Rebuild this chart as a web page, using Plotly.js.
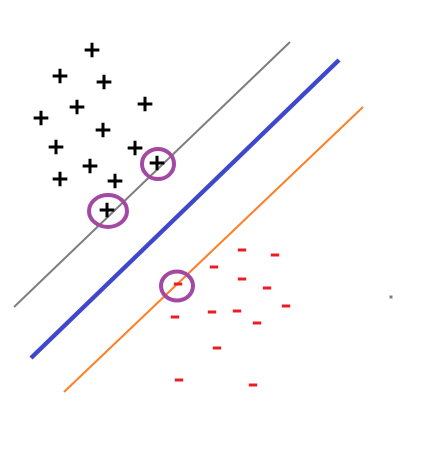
<!DOCTYPE html>
<html>
<head>
<meta charset="utf-8">
<script src="https://cdn.plot.ly/plotly-3.0.1.min.js"></script>
<style>html,body{margin:0;padding:0;background:#fff;}#chart{width:431px;height:468px;}</style>
</head>
<body>
<div id="chart"></div>
<script>
// Positive class samples (x, y in drawing units)
var plusX = [92, 60, 104, 77, 145, 41, 103, 56, 135, 90, 157, 60, 115, 107];
var plusY = [50, 76, 82, 107, 104, 118, 130, 147, 148, 166, 163, 179, 181, 210];
// Negative class samples
var minusX = [242, 275, 214, 242, 267, 178, 286, 175, 212, 237, 257, 217, 179, 253];
var minusY = [250, 255, 267, 279, 288, 284, 306, 317, 312, 311, 323, 348, 380, 385];
// Lines: upper margin, decision boundary, lower margin
var grayLineX = [14, 290];
var grayLineY = [307, 42];
var blueLineX = [31, 339];
var blueLineY = [358, 60];
var orangeLineX = [64, 363];
var orangeLineY = [392, 107];
// Support vector circles: centers and radii
var svX = [158, 108, 177];
var svY = [164, 211, 286];
var svRx = [16, 19, 16];
var svRy = [15, 16, 14.5];
// Stray dot
var dotX = [391];
var dotY = [297];

var traces = [
  {x: grayLineX, y: grayLineY, mode: 'lines', line: {color: '#7f7f7f', width: 2}, hoverinfo: 'skip'},
  {x: blueLineX, y: blueLineY, mode: 'lines', line: {color: '#3f48cc', width: 4.5}, hoverinfo: 'skip'},
  {x: orangeLineX, y: orangeLineY, mode: 'lines', line: {color: '#ff7f27', width: 2}, hoverinfo: 'skip'},
  {x: plusX, y: plusY, mode: 'markers', marker: {symbol: 'cross-thin', size: 10.5, line: {color: '#000000', width: 3}}, hoverinfo: 'skip'},
  {x: minusX, y: minusY, mode: 'markers', marker: {symbol: 'line-ew', size: 6, line: {color: '#ed1c24', width: 3}}, hoverinfo: 'skip'},
  {x: dotX, y: dotY, mode: 'markers', marker: {symbol: 'square', size: 3, color: '#7f7f7f'}, hoverinfo: 'skip'}
];

var shapes = svX.map(function (cx, i) {
  return {
    type: 'circle', xref: 'x', yref: 'y',
    x0: cx - svRx[i], x1: cx + svRx[i],
    y0: svY[i] - svRy[i], y1: svY[i] + svRy[i],
    line: {color: '#a349a4', width: 4}
  };
});

var layout = {
  width: 431, height: 468,
  margin: {l: 0, r: 0, t: 0, b: 0, pad: 0},
  paper_bgcolor: '#ffffff', plot_bgcolor: '#ffffff',
  showlegend: false,
  xaxis: {range: [0, 431], visible: false, fixedrange: true},
  yaxis: {range: [468, 0], visible: false, fixedrange: true},
  shapes: shapes
};

Plotly.newPlot('chart', traces, layout, {displayModeBar: false, staticPlot: true});
</script>
</body>
</html>
